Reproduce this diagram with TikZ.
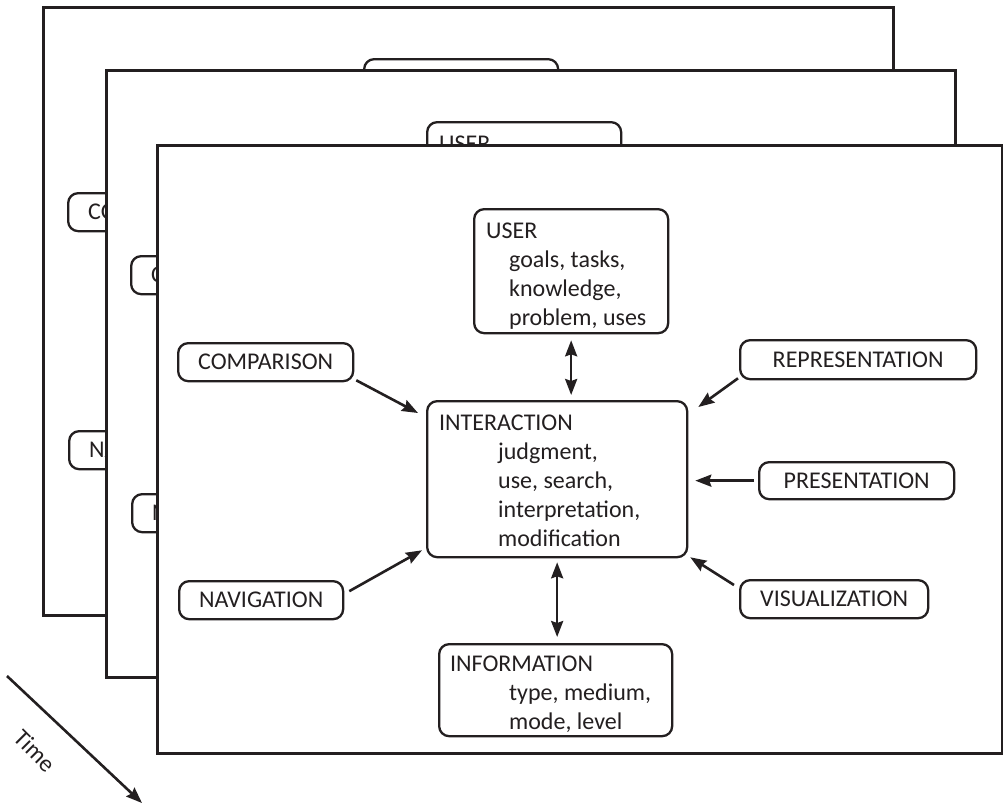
\documentclass[tikz,border=0pt]{standalone}
\usepackage{fontspec}
\setmainfont{Carlito}
\usetikzlibrary{arrows.meta}
\definecolor{ink}{HTML}{231F20}
\newcommand\labelfont{\fontsize{24pt}{29pt}\selectfont}
% multi-line card: width, height, head indent, body indent, first baseline, head, body
\newcommand\cardtext[7]{%
  \begin{minipage}[t][#2pt][t]{#1pt}%
  \labelfont\raggedright\leftskip=#4pt\relax
  \rule{0pt}{#5pt}\hspace*{\dimexpr#3pt-#4pt\relax}#6\\
  #7%
  \end{minipage}}
\tikzset{
  sheet/.style={draw=ink, line width=3pt, fill=white},
  card/.style={draw=ink, line width=2.3pt, rounded corners=10pt, fill=white,
    inner sep=0pt, anchor=north west, text=ink},
  tag/.style={draw=ink, line width=2.3pt, rounded corners=10pt, fill=white,
    inner sep=0pt, anchor=north west, text=ink, font=\labelfont},
  tip/.tip={Stealth[length=16pt,width=12pt,inset=2pt]},
  link/.style={draw=ink, line width=2.6pt, -tip},
  twoway/.style={draw=ink, line width=2.6pt, tip-tip},
}
% boxes of a sheet along its top and left edges; #2 is the USER card body
\newcommand\sheetedge[2]{%
  \node[card] (#1usr) at (473,208)
    {\cardtext{194}{124}{12}{35}{29}{USER}{#2}};
  \node[tag, minimum width=175pt, minimum height=38pt] (#1cmp) at (177,342) {COMPARISON};
  \node[tag, minimum width=164pt, minimum height=38pt] (#1nav) at (178,580) {NAVIGATION};
}
% the full model of one sheet; #1 prefixes the node names
\newcommand\panel[1]{%
  \sheetedge{#1}{goals, tasks,\\knowledge,\\problem, uses}
  \node[card] (#1int) at (426,400)
    {\cardtext{260}{156}{12}{71}{29}{INTERACTION}{judgment,\\use, search,\\interpretation,\\modification}};
  \node[card] (#1inf) at (438,643)
    {\cardtext{233}{92}{11}{70}{27}{INFORMATION}{type, medium,\\mode, level}};
  \node[tag, minimum width=236pt, minimum height=39pt] (#1rep) at (739,339) {REPRESENTATION};
  \node[tag, minimum width=195pt, minimum height=37pt] (#1pre) at (758,461) {PRESENTATION};
  \node[tag, minimum width=188pt, minimum height=38pt] (#1vis) at (739,579) {VISUALIZATION};
  \draw[twoway, shorten <=6pt, shorten >=5pt] (#1usr.south) -- (#1int.north -| #1usr.south);
  \draw[twoway, shorten <=4pt, shorten >=6pt] (#1int.south) -- (#1inf.north -| #1int.south);
  \draw[link] ([xshift=2pt,yshift=2pt]#1cmp.south east) -- ([xshift=-8pt,yshift=-13pt]#1int.north west);
  \draw[link] ([xshift=5pt,yshift=9pt]#1nav.east) -- ([xshift=-4pt,yshift=8pt]#1int.south west);
  \draw[link] ([xshift=-1pt,yshift=2pt]#1rep.south west) -- ([xshift=10pt,yshift=-7pt]#1int.north east);
  \draw[link, shorten <=4pt, shorten >=7pt] (#1pre.west) -- (#1int.east |- #1pre.west);
  \draw[link] ([xshift=-5pt,yshift=-6pt]#1vis.north west) -- ([xshift=2pt,yshift=1pt]#1int.south east);
}
\begin{document}
\begin{tikzpicture}[x=1pt,y=-1pt]
  \useasboundingbox (0,0) rectangle (1003,804);
  % back sheet
  \draw[sheet] (43,7) rectangle (893,615);
  \begin{scope}[shift={(-110,-150)}]
    \sheetedge{b}{\mbox{}}
  \end{scope}
  % middle sheet
  \draw[sheet] (106,70) rectangle (955,677);
  \begin{scope}[shift={(-47,-87)}]
    \sheetedge{m}{\mbox{}}
  \end{scope}
  % front sheet
  \draw[sheet] (157,145) rectangle (1002,753);
  \panel{f}
  % time axis
  \coordinate (t0) at (7,676);
  \coordinate (t1) at (142,803);
  \draw[link] (t0) -- (t1);
  \node[font=\labelfont, text=ink, rotate=-45] (timelbl) at (35,751) {Time};
\end{tikzpicture}
\end{document}
